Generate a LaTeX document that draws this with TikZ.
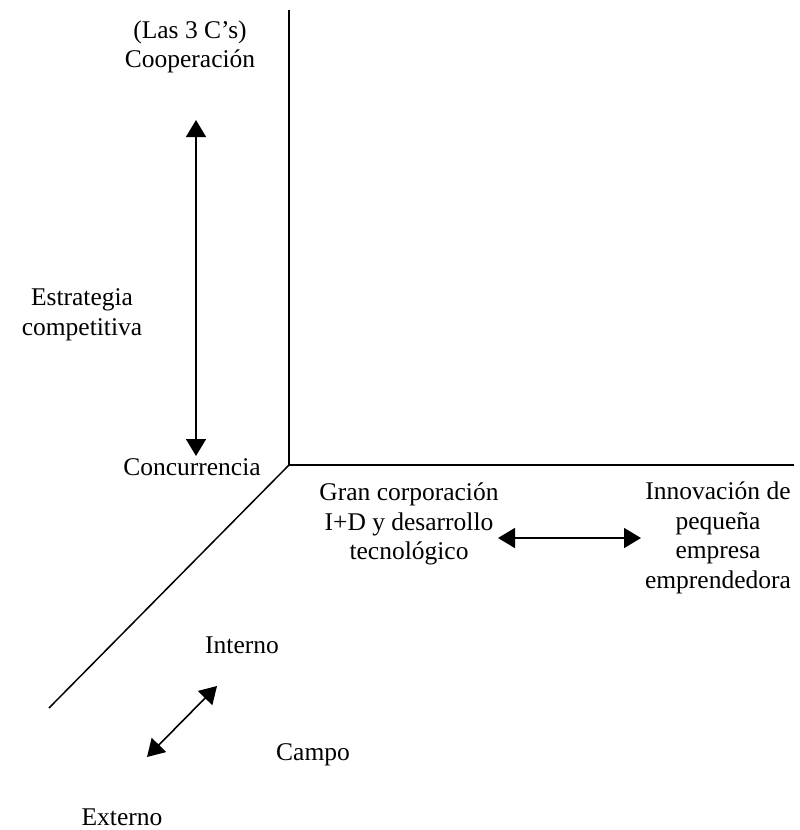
\documentclass[tikz,border=0pt]{standalone}
\usepackage{fontspec}
\setmainfont{Liberation Serif}
\usetikzlibrary{arrows.meta}
\begin{document}
\begin{tikzpicture}[x=1pt,y=-1pt,
  lbl/.style={align=center,inner sep=0pt,font=\fontsize{25.5}{29.5}\selectfont},
  axis/.style={line width=1.8pt},
  dbl/.style={line width=1.6pt,{Triangle[length=17pt,width=20pt]}-{Triangle[length=17pt,width=20pt]}}]
\useasboundingbox (0,0) rectangle (800,830);
% axes
\coordinate (O) at (289,465);
\coordinate (ytop) at (289,10);
\coordinate (xend) at (794,465);
\coordinate (zend) at (49,708);
\draw[axis] (ytop) -- (O) -- (xend);
\draw[line width=1.5pt] (O) -- (zend);
% labels
\node[lbl] (coop) at (190,47) {(Las 3 C’s)\\Cooperación};
\node[lbl] (estr) at (82,315) {Estrategia\\competitiva};
\node[lbl] (conc) at (192,467) {Concurrencia};
\node[lbl] (gran) at (409,524) {Gran corporación\\I+D y desarrollo\\tecnológico};
\node[lbl] (innov) at (718,538) {Innovación de\\pequeña\\empresa\\emprendedora};
\node[lbl] (int) at (242,645) {Interno};
\node[lbl] (campo) at (313,755) {Campo};
\node[lbl] (ext) at (122,817) {Externo};
% arrows
\coordinate (v1) at (196,120);
\coordinate (v2) at (196,456);
\draw[dbl] (v1) -- (v2);
\coordinate (h1) at (498,538);
\coordinate (h2) at (641,538);
\draw[dbl] (h1) -- (h2);
\coordinate (d1) at (147,757);
\coordinate (d2) at (217,686);
\draw[dbl] (d1) -- (d2);
\end{tikzpicture}
\end{document}
